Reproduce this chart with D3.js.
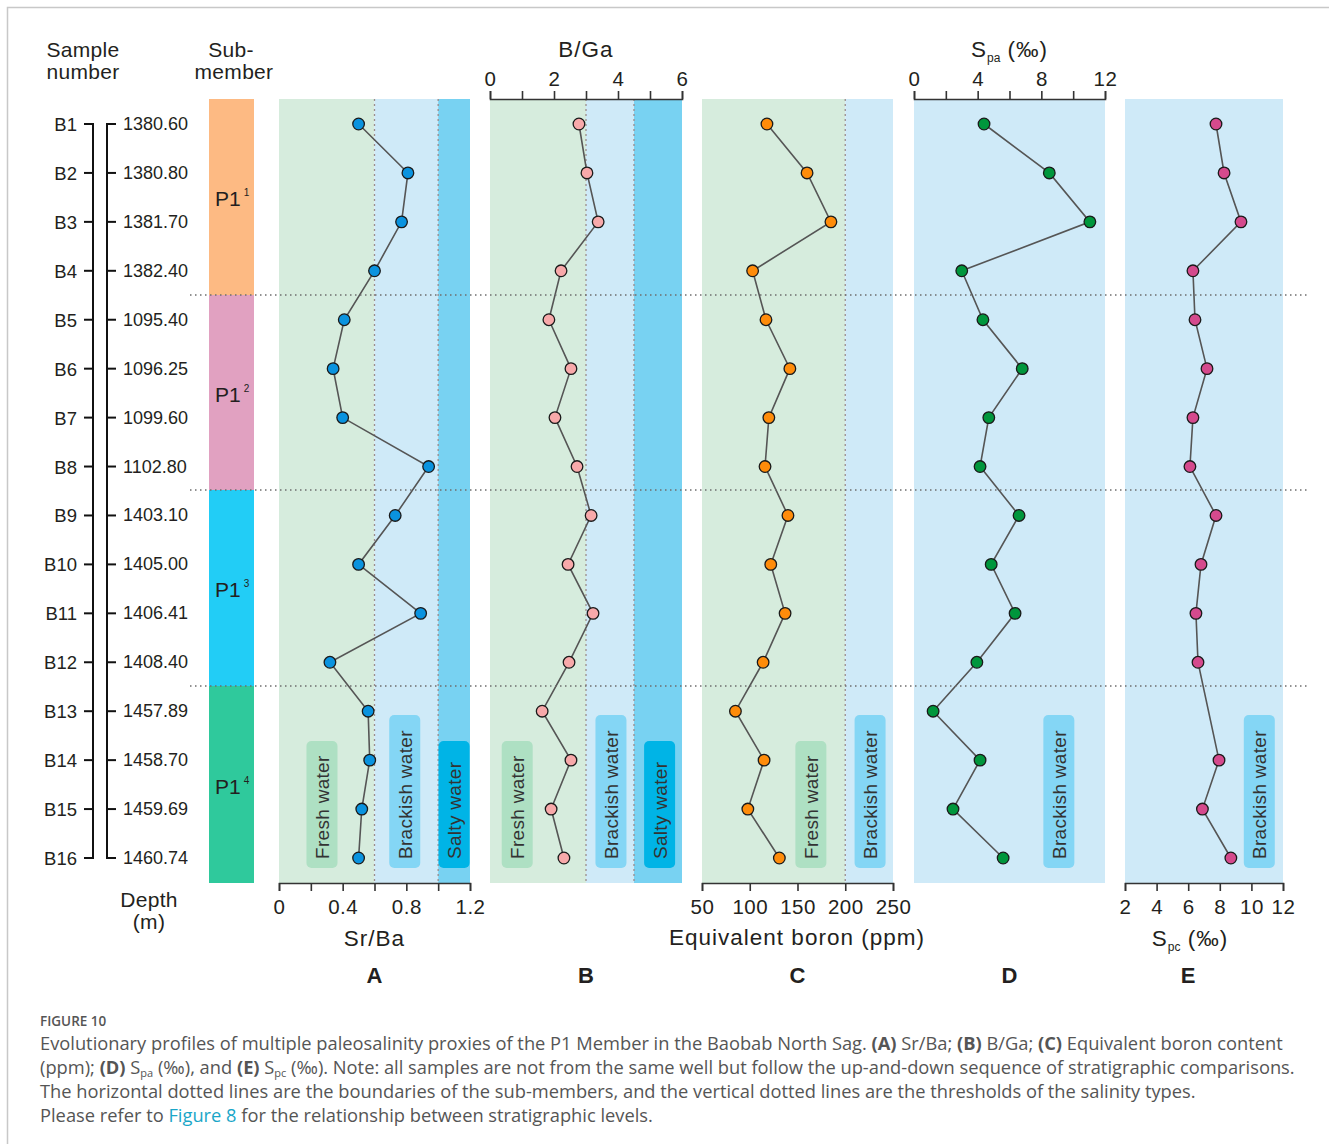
<!DOCTYPE html>
<html>
<head>
<meta charset="utf-8">
<script src="https://cdn.jsdelivr.net/npm/d3@7"></script>
<style>
  body { margin: 0; background: #fff; }
  svg text { font-family: "Liberation Sans", Arial, sans-serif; fill: #231f20; }
  .caption { font-family: "Open Sans", "Noto Sans", sans-serif; fill: #555; }
</style>
</head>
<body>
<div id="chart"></div>
<script>
// samples and depths
var samples = ["B1","B2","B3","B4","B5","B6","B7","B8","B9","B10","B11","B12","B13","B14","B15","B16"];
var depths = ["1380.60","1380.80","1381.70","1382.40","1095.40","1096.25","1099.60","1102.80",
              "1403.10","1405.00","1406.41","1408.40","1457.89","1458.70","1459.69","1460.74"];
// sub-members: first and last sample of each
var subMembers = [
  {name:"P1", sup:"1", from:0, to:3},
  {name:"P1", sup:"2", from:4, to:7},
  {name:"P1", sup:"3", from:8, to:11},
  {name:"P1", sup:"4", from:12, to:15}
];

// proxy values
var srBa  = [0.50,0.81,0.77,0.60,0.41,0.34,0.40,0.94,0.73,0.50,0.89,0.32,0.56,0.57,0.52,0.50];
var bGa   = [2.78,3.03,3.38,2.22,1.84,2.53,2.03,2.72,3.16,2.44,3.22,2.47,1.63,2.53,1.91,2.31];
var boron = [118,160,185,103,117,142,120,116,140,122,137,114,85,115,98,131];
var spa   = [4.4,8.5,11.05,3.0,4.33,6.8,4.7,4.15,6.6,4.85,6.35,3.95,1.2,4.15,2.45,5.6];
var spc   = [7.76,8.27,9.34,6.30,6.43,7.19,6.30,6.11,7.76,6.81,6.49,6.62,null,7.95,6.9,8.7];

var w = 1329, h = 1144;
var svg = d3.select("#chart").append("svg").attr("width", w).attr("height", h);

// frame
svg.append("path").attr("d","M7.5,1144V7.5H1329").attr("fill","none").attr("stroke","#c8c8c8").attr("stroke-width",1.5);

var yTop = 99, yBot = 883;
var y = d3.scalePoint().domain(d3.range(16)).range([124, 858]);

var green = "#d6ecdd", lblue = "#cfeaf8", salty = "#78d2f2";
var boxFresh = "#aee0c3", boxBrack = "#84d6f5", boxSalty = "#00b4e6";

var panels = [
  {key:"A", data:srBa, domain:[0,1.2], x0:279, x1:470, axis:"bottom",
   ticks:[0,0.2,0.4,0.6,0.8,1.0,1.2], labels:[0,0.4,0.8,1.2], title:"Sr/Ba",
   bands:[[0,0.6,green],[0.6,1.0,lblue],[1.0,1.2,salty]], thresholds:[0.6,1.0], color:"#0a93df",
   boxes:[["Fresh water",0.27,boxFresh,false],["Brackish water",0.79,boxBrack,true],["Salty water",1.1,boxSalty,false]]},
  {key:"B", data:bGa, domain:[0,6], x0:490, x1:682, axis:"top",
   ticks:[0,1,2,3,4,5,6], labels:[0,2,4,6], title:"B/Ga",
   bands:[[0,3,green],[3,4.5,lblue],[4.5,6,salty]], thresholds:[3,4.5], color:"#f8a9aa",
   boxes:[["Fresh water",0.85,boxFresh,false],["Brackish water",3.78,boxBrack,true],["Salty water",5.3,boxSalty,false]]},
  {key:"C", data:boron, domain:[50,250], x0:702, x1:893, axis:"bottom",
   ticks:[50,100,150,200,250], labels:[50,100,150,200,250], title:"Equivalent boron  (ppm)",
   bands:[[50,200,green],[200,250,lblue]], thresholds:[200], color:"#ff8c0a",
   boxes:[["Fresh water",164,boxFresh,false],["Brackish water",226,boxBrack,true]]},
  {key:"D", data:spa, domain:[0,12], x0:914, x1:1105, axis:"top",
   ticks:[0,2,4,6,8,10,12], labels:[0,4,8,12], title:"pa",
   bands:[[0,12,lblue]], thresholds:[], color:"#00963c",
   boxes:[["Brackish water",9.1,boxBrack,true]]},
  {key:"E", data:spc, domain:[2,12], x0:1125, x1:1283, axis:"bottom",
   ticks:[2,4,6,8,10,12], labels:[2,4,6,8,10,12], title:"pc",
   bands:[[2,12,lblue]], thresholds:[], color:"#d54a8d",
   boxes:[["Brackish water",10.5,boxBrack,true]]}
];

panels.forEach(function(p){
  var x = d3.scaleLinear().domain(p.domain).range([p.x0, p.x1]);
  var g = svg.append("g").attr("class","panel");

  // salinity bands
  g.selectAll("rect.band").data(p.bands).enter().append("rect")
    .attr("x", function(d){ return x(d[0]); })
    .attr("width", function(d){ return x(d[1]) - x(d[0]); })
    .attr("y", yTop).attr("height", yBot - yTop)
    .attr("fill", function(d){ return d[2]; });

  // threshold lines
  g.selectAll("line.thr").data(p.thresholds).enter().append("line")
    .attr("x1", function(d){ return x(d); }).attr("x2", function(d){ return x(d); })
    .attr("y1", yTop).attr("y2", yBot)
    .attr("stroke","#9b8c8c").attr("stroke-width",1.3).attr("stroke-dasharray","2,3");

  // water type boxes
  var bx = g.selectAll("g.box").data(p.boxes).enter().append("g");
  bx.append("rect")
    .attr("x", function(d){ return x(d[1]) - 15.5; })
    .attr("y", function(d){ return d[3] ? 715 : 741; })
    .attr("width", 31)
    .attr("height", function(d){ return d[3] ? 153 : 127; })
    .attr("rx", 5).attr("fill", function(d){ return d[2]; });
  bx.append("text")
    .attr("transform", function(d){ return "translate(" + (x(d[1]) + 7) + ",859) rotate(-90)"; })
    .attr("font-size", 19).attr("letter-spacing", 0.3)
    .style("fill","#333")
    .text(function(d){ return d[0]; });

  // profile line and points
  var vals = p.data.map(function(v, i){ return v == null ? null : [x(v), y(i)]; })
    .filter(function(d){ return d != null; });
  g.append("path")
    .datum(vals)
    .attr("d", d3.line().x(function(d){ return d[0]; }).y(function(d){ return d[1]; }))
    .attr("fill","none").attr("stroke","#555").attr("stroke-width",1.6);
  g.selectAll("circle").data(vals).enter().append("circle")
    .attr("cx", function(d){ return d[0]; }).attr("cy", function(d){ return d[1]; })
    .attr("r", 5.8).attr("fill", p.color).attr("stroke","#1a1a1a").attr("stroke-width",1.3);

  // axis
  var ay = p.axis == "top" ? yTop : yBot;
  var ax = (p.axis == "top" ? d3.axisTop(x) : d3.axisBottom(x))
    .tickValues(p.ticks).tickSize(8).tickPadding(p.axis == "top" ? 5 : 8)
    .tickFormat(function(d){ return p.labels.indexOf(d) >= 0 ? d3.format("")(d) : ""; });
  var ag = svg.append("g").attr("transform","translate(0," + ay + ")").call(ax);
  ag.select(".domain").attr("stroke","#333").attr("stroke-width",1.6);
  ag.selectAll(".tick line").attr("stroke","#333").attr("stroke-width",1.6);
  ag.selectAll(".tick text").attr("font-size",20.5).attr("letter-spacing",0.5)
    .attr("font-family","Liberation Sans, Arial, sans-serif").attr("fill","#231f20");

  // titles
  var cx = (p.x0 + p.x1) / 2;
  var ty = p.axis == "top" ? 57 : 946;
  var t = svg.append("text").attr("x", cx).attr("y", ty).attr("text-anchor","middle")
    .attr("font-size",22.5).attr("letter-spacing",1);
  if (p.key == "D" || p.key == "E") {
    t.append("tspan").text("S");
    t.append("tspan").attr("font-size",12).attr("dy",5).attr("letter-spacing",0).text(p.title);
    t.append("tspan").attr("dy",-5).text(" (\u2030)");
  } else {
    t.text(p.title);
  }
  if (p.key == "C") t.attr("x", 797).attr("y", 945);
  if (p.key == "E") t.attr("x", 1190);

  svg.append("text").attr("x", p.key == "E" ? 1188 : cx).attr("y", 983)
    .attr("text-anchor","middle").attr("font-size",22).attr("font-weight","bold").text(p.key);
});

// sub-member column
var subColors = ["#fdba83","#e1a1c1","#22cdf6","#2fc99c"];
var bounds = [yTop, 295, 490, 686, yBot];
svg.selectAll("rect.sub").data(subMembers).enter().append("rect")
  .attr("x", 209).attr("width", 45)
  .attr("y", function(d, i){ return bounds[i]; })
  .attr("height", function(d, i){ return bounds[i+1] - bounds[i]; })
  .attr("fill", function(d, i){ return subColors[i]; });
var st = svg.selectAll("text.sub").data(subMembers).enter().append("text")
  .attr("x", 215).attr("y", function(d, i){ return (bounds[i] + bounds[i+1]) / 2 + 9; })
  .attr("font-size", 21);
st.append("tspan").text(function(d){ return d.name; });
st.append("tspan").attr("font-size", 10).attr("dy", -10).attr("dx", 3).text(function(d){ return d.sup; });

// sub-member boundaries
svg.selectAll("line.bnd").data(bounds.slice(1, 4)).enter().append("line")
  .attr("x1", 190).attr("x2", 1310).attr("y1", function(d){ return d; }).attr("y2", function(d){ return d; })
  .attr("stroke","#6d6d6d").attr("stroke-width",1.4).attr("stroke-dasharray","1.5,3.5");

// sample brackets
svg.append("path").attr("d","M84," + y(0) + "H93V" + y(15) + "H84")
  .attr("fill","none").attr("stroke","#111").attr("stroke-width",2);
svg.append("path").attr("d","M116," + y(0) + "H107V" + y(15) + "H116")
  .attr("fill","none").attr("stroke","#111").attr("stroke-width",2);
svg.selectAll("line.tkL").data(d3.range(1, 15)).enter().append("line")
  .attr("x1",84).attr("x2",93).attr("y1", function(d){ return y(d); }).attr("y2", function(d){ return y(d); })
  .attr("stroke","#111").attr("stroke-width",2);
svg.selectAll("line.tkR").data(d3.range(1, 15)).enter().append("line")
  .attr("x1",107).attr("x2",116).attr("y1", function(d){ return y(d); }).attr("y2", function(d){ return y(d); })
  .attr("stroke","#111").attr("stroke-width",2);

svg.selectAll("text.samp").data(samples).enter().append("text")
  .attr("x", 77).attr("y", function(d, i){ return y(i) + 7; })
  .attr("text-anchor","end").attr("font-size",18.5).text(function(d){ return d; });
svg.selectAll("text.dep").data(depths).enter().append("text")
  .attr("x", 123).attr("y", function(d, i){ return y(i) + 6; })
  .attr("font-size",18).text(function(d){ return d; });

// column headers
[["Sample", 83, 57], ["number", 83, 79], ["Sub-", 231, 57], ["member", 234, 79], ["Depth", 149, 907], ["(m)", 149, 929]]
  .forEach(function(d){
    svg.append("text").attr("x", d[1]).attr("y", d[2]).attr("text-anchor","middle")
      .attr("font-size",21).attr("letter-spacing",0.3).text(d[0]);
  });

// caption
var cap = svg.append("g").attr("class","caption");
cap.append("text").attr("class","caption").attr("x",40).attr("y",1026).attr("font-size",13.5).attr("font-weight",600).text("FIGURE 10");
var capLines = [
  [["Evolutionary profiles of multiple paleosalinity proxies of the P1 Member in the Baobab North Sag. "],["(A)","b"],[" Sr/Ba; "],["(B)","b"],[" B/Ga; "],["(C)","b"],[" Equivalent boron content"]],
  [["(ppm); "],["(D)","b"],[" S"],["pa","sub"],[" (\u2030), and "],["(E)","b"],[" S"],["pc","sub"],[" (\u2030). Note: all samples are not from the same well but follow the up-and-down sequence of stratigraphic comparisons."]],
  [["The horizontal dotted lines are the boundaries of the sub-members, and the vertical dotted lines are the thresholds of the salinity types."]],
  [["Please refer to "],["Figure 8","link"],[" for the relationship between stratigraphic levels."]]
];
capLines.forEach(function(ln, i){
  var t = cap.append("text").attr("class","caption").attr("x",40).attr("y",1050 + i*24).attr("font-size",18.3);
  ln.forEach(function(s, j){
    var ts = t.append("tspan").text(s[0]);
    if (s[1] == "b") ts.attr("font-weight","bold");
    if (s[1] == "sub") { ts.attr("font-size",11).attr("dy",2.5); }
    if (s[1] == "link") ts.style("fill","#19a6c8");
    if (s[1] != "sub" && j > 0 && ln[j-1][1] == "sub") ts.attr("dy",-2.5);
  });
});
</script>
</body>
</html>
